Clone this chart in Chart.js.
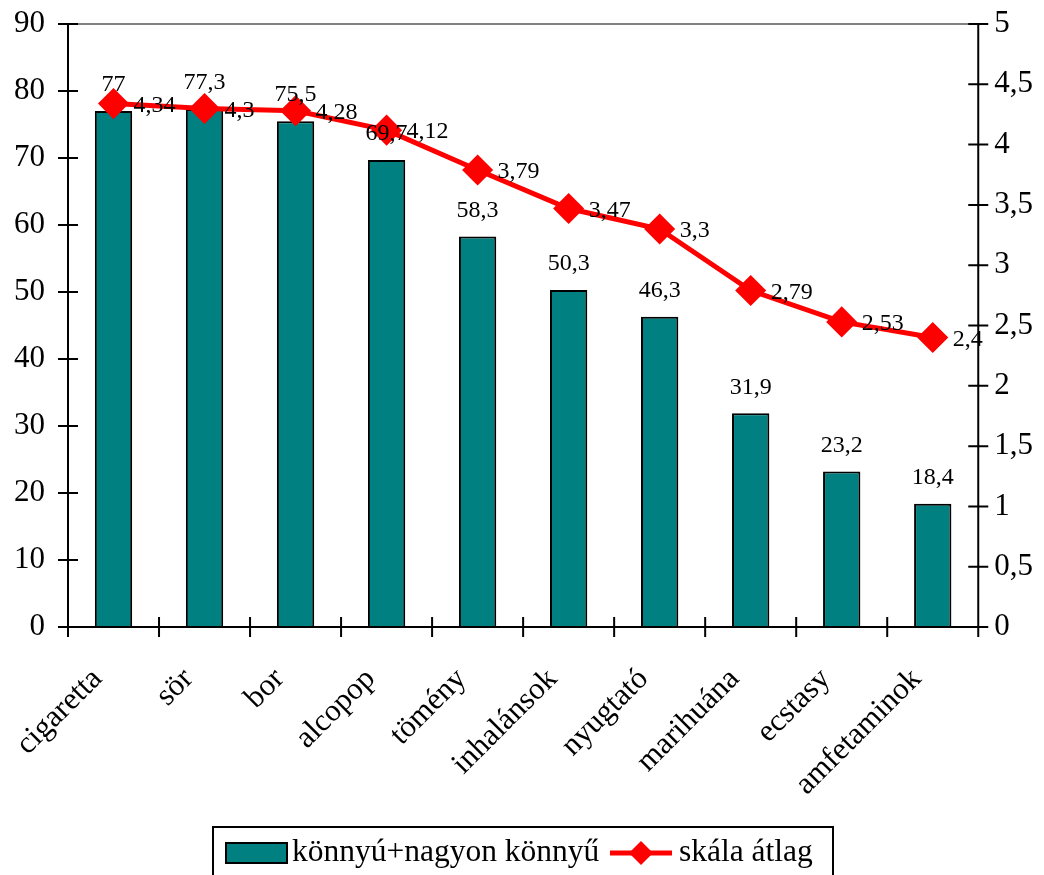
<!DOCTYPE html>
<html>
<head>
<meta charset="utf-8">
<script src="https://cdn.jsdelivr.net/npm/chart.js@4.4.1/dist/chart.umd.min.js"></script>
<style>
    html, body {
        margin: 0;
        padding: 0;
        background: #fff;
    }
</style>
</head>
<body>
<canvas id="barChart" width="1044" height="875"></canvas>
<script>
const categories = ["cigaretta", "sör", "bor", "alcopop", "tömény", "inhalánsok", "nyugtató", "marihuána", "ecstasy", "amfetaminok"];
const easyShare = [77, 77.3, 75.5, 69.7, 58.3, 50.3, 46.3, 31.9, 23.2, 18.4];
const scaleAverage = [4.34, 4.3, 4.28, 4.12, 3.79, 3.47, 3.3, 2.79, 2.53, 2.4];
const seriesNames = ["könnyú+nagyon könnyű", "skála átlag"];

const FONT = "'Liberation Serif', 'Times New Roman', serif";
const TEAL = "#008080";
const RED = "#ff0000";

const comma = (v) => String(v).replace(".", ",");

// axes, crossing tick marks, data labels and the boxed legend
const excelLook = {
    id: "excelLook",
    beforeDatasetsDraw(chart) {
        const { ctx, chartArea: a } = chart;
        ctx.save();
        ctx.strokeStyle = "#808080";
        ctx.lineWidth = 2;
        ctx.beginPath();
        ctx.moveTo(a.left, a.top);
        ctx.lineTo(a.right, a.top);
        ctx.stroke();
        ctx.restore();
    },
    afterDatasetsDraw(chart) {
        const { ctx, chartArea: a, scales } = chart;
        ctx.save();
        ctx.strokeStyle = "#000";
        ctx.lineWidth = 2;
        ctx.beginPath();
        ctx.moveTo(a.left, a.top);
        ctx.lineTo(a.left, a.bottom);
        ctx.lineTo(a.right, a.bottom);
        ctx.moveTo(a.right, a.top);
        ctx.lineTo(a.right, a.bottom);
        scales.y.ticks.forEach((t) => {
            const y = scales.y.getPixelForValue(t.value);
            ctx.moveTo(a.left - 10, y);
            ctx.lineTo(a.left + 10, y);
        });
        scales.y1.ticks.forEach((t) => {
            const y = scales.y1.getPixelForValue(t.value);
            ctx.moveTo(a.right - 10, y);
            ctx.lineTo(a.right + 10, y);
        });
        const step = (a.right - a.left) / categories.length;
        for (let i = 0; i <= categories.length; i++) {
            const x = a.left + i * step;
            ctx.moveTo(x, a.bottom - 10);
            ctx.lineTo(x, a.bottom + 10);
        }
        ctx.stroke();

        // data labels
        ctx.fillStyle = "#000";
        ctx.font = "24px " + FONT;
        ctx.textBaseline = "middle";
        ctx.textAlign = "center";
        chart.getDatasetMeta(0).data.forEach((bar, i) => {
            ctx.fillText(comma(easyShare[i]), bar.x, bar.y - 26);
        });
        ctx.textAlign = "left";
        chart.getDatasetMeta(1).data.forEach((pt, i) => {
            ctx.fillText(comma(scaleAverage[i]), pt.x + 20, pt.y + 2);
        });

        // legend
        const lt = chart.height - 48;
        ctx.lineWidth = 2;
        ctx.strokeRect(213, lt, 620, 70);
        ctx.fillStyle = TEAL;
        ctx.fillRect(226, lt + 16, 61, 20);
        ctx.strokeRect(226, lt + 16, 61, 20);
        ctx.fillStyle = "#000";
        ctx.font = "31.5px " + FONT;
        ctx.textAlign = "left";
        ctx.fillText(seriesNames[0], 292, lt + 26);
        ctx.strokeStyle = RED;
        ctx.lineWidth = 5;
        ctx.beginPath();
        ctx.moveTo(610, lt + 26);
        ctx.lineTo(672, lt + 26);
        ctx.stroke();
        ctx.fillStyle = RED;
        ctx.beginPath();
        ctx.moveTo(641, lt + 14);
        ctx.lineTo(653, lt + 26);
        ctx.lineTo(641, lt + 38);
        ctx.lineTo(629, lt + 26);
        ctx.closePath();
        ctx.fill();
        ctx.fillStyle = "#000";
        ctx.fillText(seriesNames[1], 679, lt + 26);
        ctx.restore();
    },
};

const tickFont = { family: FONT, size: 31 };
const valueFont = { family: FONT, size: 31, lineHeight: 0.8 };

new Chart(document.getElementById("barChart").getContext("2d"), {
    data: {
        labels: categories,
        datasets: [
            {
                type: "bar",
                label: seriesNames[0],
                data: easyShare,
                yAxisID: "y",
                backgroundColor: TEAL,
                borderColor: "#000",
                borderWidth: 2,
                barPercentage: 0.41,
                categoryPercentage: 1,
                order: 2,
            },
            {
                type: "line",
                label: seriesNames[1],
                data: scaleAverage,
                yAxisID: "y1",
                borderColor: RED,
                backgroundColor: RED,
                borderWidth: 5,
                pointStyle: "rectRot",
                pointRadius: 12,
                pointHoverRadius: 12,
                order: 1,
            },
        ],
    },
    options: {
        responsive: false,
        animation: false,
        layout: {
            padding: { left: 14, right: 0, top: 24, bottom: 46 },
        },
        plugins: {
            legend: { display: false },
            tooltip: { enabled: false },
        },
        scales: {
            x: {
                grid: { display: false },
                border: { display: false },
                ticks: {
                    color: "#000",
                    font: tickFont,
                    maxRotation: 45,
                    minRotation: 45,
                    padding: 26,
                    labelOffset: -16,
                },
            },
            y: {
                position: "left",
                min: 0,
                max: 90,
                grid: { display: false, tickLength: 23 },
                border: { display: false },
                ticks: { stepSize: 10, color: "#000", font: valueFont, padding: 0 },
            },
            y1: {
                position: "right",
                min: 0,
                max: 5,
                grid: { display: false, tickLength: 5 },
                border: { display: false },
                ticks: {
                    stepSize: 0.5,
                    color: "#000",
                    font: valueFont,
                    padding: 11,
                    callback: (v) => comma(v),
                },
            },
        },
    },
    plugins: [excelLook],
});
</script>
</body>
</html>
